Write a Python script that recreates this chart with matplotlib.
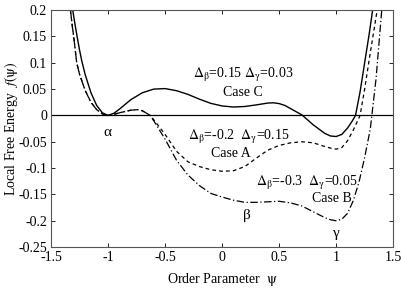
import matplotlib
matplotlib.use("Agg")
import matplotlib.pyplot as plt

plt.rcParams['font.family'] = ['Liberation Serif', 'DejaVu Serif']
plt.rcParams['mathtext.fontset'] = 'stix'

# Case C (solid)
psi_c = [-1.31, -1.29, -1.27, -1.25, -1.23, -1.2, -1.15, -1.1, -1.05, -1.0, -0.95, -0.9, -0.8,
         -0.7, -0.6, -0.5, -0.4, -0.3, -0.2, -0.1, 0.0, 0.1, 0.2, 0.3, 0.4, 0.45, 0.5, 0.55,
         0.6, 0.65, 0.7, 0.8, 0.9, 0.95, 1.0, 1.05, 1.1, 1.14, 1.17, 1.21, 1.25, 1.29, 1.32]
f_c = [0.2, 0.173, 0.148, 0.124, 0.103, 0.077, 0.043, 0.019, 0.005, 0.0, 0.004, 0.012, 0.03,
       0.043, 0.05, 0.051, 0.047, 0.04, 0.031, 0.023, 0.018, 0.016, 0.017, 0.02, 0.0235, 0.024,
       0.0225, 0.019, 0.013, 0.007, 0.001, -0.018, -0.034, -0.039, -0.040, -0.036, -0.024,
       -0.011, 0.0, 0.045, 0.1, 0.155, 0.2]

# Case A (dashed)
psi_a = [-1.33, -1.315, -1.3, -1.275, -1.25, -1.2, -1.15, -1.1, -1.05, -1.0, -0.95, -0.9, -0.8,
         -0.74, -0.7, -0.63, -0.6, -0.5, -0.4, -0.3, -0.2, -0.1, 0.0, 0.1, 0.2, 0.3, 0.4, 0.5,
         0.6, 0.7, 0.8, 0.9, 0.95, 1.0, 1.05, 1.1, 1.15, 1.21, 1.25, 1.3, 1.36]
f_a = [0.2, 0.172, 0.147, 0.1, 0.078, 0.047, 0.025, 0.011, 0.003, 0.0, 0.002, 0.005, 0.010,
       0.011, 0.009, 0.0, -0.008, -0.036, -0.068, -0.088, -0.097, -0.103, -0.106, -0.105,
       -0.097, -0.081, -0.066, -0.057, -0.052, -0.050, -0.052, -0.059, -0.062, -0.064, -0.061,
       -0.048, -0.028, 0.0, 0.05, 0.12, 0.2]

# Case B (dash-dot)
psi_b = [-1.33, -1.315, -1.3, -1.275, -1.25, -1.2, -1.15, -1.1, -1.05, -1.0, -0.95, -0.9, -0.8,
         -0.74, -0.7, -0.63, -0.6, -0.5, -0.4, -0.3, -0.2, -0.1, 0.0, 0.1, 0.2, 0.3, 0.4, 0.5,
         0.6, 0.7, 0.8, 0.9, 0.95, 1.0, 1.05, 1.1, 1.15, 1.2, 1.25, 1.3, 1.35, 1.4]
f_b = [0.2, 0.172, 0.147, 0.1, 0.078, 0.047, 0.025, 0.011, 0.003, 0.0, 0.002, 0.005, 0.010,
       0.011, 0.009, 0.0, -0.01, -0.045, -0.085, -0.113, -0.133, -0.148, -0.155, -0.161,
       -0.165, -0.165, -0.164, -0.163, -0.166, -0.172, -0.183, -0.194, -0.198, -0.200, -0.197,
       -0.186, -0.162, -0.127, -0.08, -0.025, 0.07, 0.2]

xticks = [-1.5, -1, -0.5, 0, 0.5, 1, 1.5]
xticklabels = ['-1.5', '-1', '-0.5', '0', '0.5', '1', '1.5']
yticks = [-0.25, -0.2, -0.15, -0.1, -0.05, 0, 0.05, 0.1, 0.15, 0.2]
yticklabels = ['-0.25', '-0.2', '-0.15', '-0.1', '-0.05', '0', '0.05', '0.1', '0.15', '0.2']

fig = plt.figure(figsize=(4.02, 2.89), dpi=100)
ax = fig.add_axes([0.127, 0.145, 0.851, 0.82])

ax.axhline(0, color='k', lw=0.9)
ax.plot(psi_c, f_c, 'k-', lw=1.0)
ax.plot(psi_a, f_a, 'k', ls=(0, (3, 2.5)), lw=0.9)
ax.plot(psi_b, f_b, 'k', ls=(0, (6, 2, 1, 2)), lw=0.9)

ax.set_xlim(-1.5, 1.5)
ax.set_ylim(-0.25, 0.2)
ax.set_xticks(xticks)
ax.set_xticklabels(xticklabels)
ax.set_yticks(yticks)
ax.set_yticklabels(yticklabels)
ax.tick_params(direction='in', top=True, right=True, labelsize=10, length=3, width=0.6, pad=3)
for s in ax.spines.values():
    s.set_linewidth(0.8)
    s.set_color('#555555')

ax.set_xlabel(r'Order Parameter  $\mathrm{ψ}$', fontsize=10)
ax.set_ylabel(r'Local Free Energy  $f(\mathrm{ψ})$', fontsize=10)
ax.xaxis.set_label_coords(0.5, -0.1)
ax.yaxis.set_label_coords(-0.092, 0.5)

fs = 10
ax.text(0.184, 0.076, r'$\mathrm{Δ_β}$=0.15 $\mathrm{Δ_γ}$=0.03', ha='center', va='center', fontsize=fs)
ax.text(0.184, 0.044, 'Case C', ha='center', va='center', fontsize=fs)
ax.text(0.149, -0.041, r'$\mathrm{Δ_β}$=-0.2  $\mathrm{Δ_γ}$=0.15', ha='center', va='center', fontsize=fs)
ax.text(0.079, -0.072, 'Case A', ha='center', va='center', fontsize=fs)
ax.text(0.746, -0.129, r'$\mathrm{Δ_β}$=-0.3  $\mathrm{Δ_γ}$=0.05', ha='center', va='center', fontsize=fs)
ax.text(0.965, -0.158, 'Case B', ha='center', va='center', fontsize=fs)
ax.text(-1.01, -0.032, 'α', ha='center', va='center', fontsize=11)
ax.text(0.22, -0.19, 'β', ha='center', va='center', fontsize=11)
ax.text(1.0, -0.224, 'γ', ha='center', va='center', fontsize=11)

fig.savefig('out.png', dpi=100)
